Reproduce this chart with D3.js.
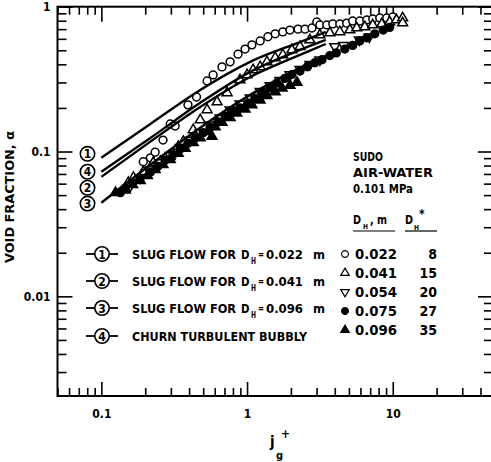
<!DOCTYPE html>
<html>
<head>
<meta charset="utf-8">
<script src="https://cdn.jsdelivr.net/npm/d3@7"></script>
<style>
  body { margin: 0; background: #fff; }
  text { font-family: "DejaVu Sans Condensed", "Liberation Sans Narrow", "DejaVu Sans", sans-serif; fill: #000; font-weight: bold; }
</style>
</head>
<body>
<script>
// ---- data: [jg+, void fraction] ----
var openCircles = [[0.194,0.085],[0.217,0.0905],[0.234,0.099],[0.265,0.12],[0.297,0.155],[0.321,0.15],
  [0.393,0.21],[0.45,0.238],[0.532,0.307],[0.585,0.338],[0.673,0.384],[0.765,0.416],[0.867,0.47],
  [0.969,0.51],[1.08,0.545],[1.23,0.58],[1.39,0.62],[1.56,0.65],[1.76,0.67],[1.97,0.69],[2.24,0.70],
  [2.5,0.70],[2.79,0.713],[3.01,0.784],[3.16,0.748],[3.53,0.748],[3.88,0.76],[4.33,0.76],[4.83,0.77],
  [5.31,0.797],[5.94,0.797],[6.64,0.81],[7.29,0.823],[8.15,0.836],[9.1,0.836],[10.0,0.85]];
var openUp = [[0.153,0.061],[0.166,0.066],[0.194,0.0725],[0.227,0.0836],[0.254,0.085],[0.297,0.092],
  [0.337,0.108],[0.365,0.117],[0.427,0.141],[0.477,0.165],[0.532,0.194],[0.623,0.22],[0.73,0.254],
  [0.895,0.312],[1.0,0.338],[1.1,0.366],[1.23,0.384],[1.37,0.416],[1.56,0.443],[1.76,0.465],[2.03,0.503],
  [2.31,0.53],[2.7,0.589],[3.16,0.638],[3.7,0.659],[4.33,0.67],[5.08,0.691],[5.66,0.713],[6.43,0.725],
  [7.29,0.748],[8.4,0.76],[9.53,0.784],[10.6,0.81],[11.7,0.836],[11.7,0.772]];
var openDown = [[0.158,0.058],[0.185,0.066],[0.217,0.075],[0.254,0.084],[0.297,0.094],[0.348,0.107],
  [0.407,0.12],[0.477,0.135],[0.558,0.153],[0.653,0.171],[0.765,0.194],[0.895,0.213],[1.05,0.235],
  [1.23,0.26],[1.44,0.285],[1.68,0.31],[1.97,0.34],[2.31,0.37],[2.7,0.4],[3.16,0.43],[4.0,0.53],
  [4.6,0.54],[5.9,0.59],[6.9,0.62]];
var filledCircles = [[0.135,0.052],[0.146,0.056],[0.164,0.061],[0.184,0.065],[0.217,0.072],[0.244,0.079],
  [0.274,0.087],[0.31,0.095],[0.348,0.104],[0.393,0.114],[0.44,0.124],[0.5,0.135],[0.558,0.147],
  [0.631,0.16],[0.707,0.175],[0.79,0.189],[0.895,0.2],[1.02,0.216],[1.13,0.234],[1.27,0.255],[1.44,0.275],
  [1.6,0.297],[1.82,0.32],[2.03,0.34],[2.31,0.36],[2.59,0.385],[2.92,0.41],[3.27,0.43],[3.7,0.46],
  [4.1,0.48],[4.69,0.51],[5.31,0.54],[5.94,0.58],[6.64,0.61],[7.53,0.65],[8.6,0.69],[9.53,0.72]];
var filledUp = [[0.125,0.052],[0.146,0.054],[0.164,0.059],[0.185,0.063],[0.207,0.068],[0.234,0.075],
  [0.265,0.081],[0.297,0.088],[0.337,0.097],[0.376,0.105],[0.427,0.115],[0.477,0.124],[0.575,0.127],
  [0.54,0.137],[0.604,0.148],[0.673,0.159],[0.765,0.171],[0.85,0.184],[0.969,0.196],[1.08,0.21],
  [1.23,0.226],[1.37,0.243],[1.56,0.258],[1.74,0.274],[1.97,0.286],[2.2,0.3]];

// curves (read at a few points and joined smoothly)
var curveX = [0.1, 0.217, 0.477, 1.05, 2.31, 3.47];
var curve1 = [0.0905, 0.155, 0.266, 0.416, 0.57, 0.67];
var curve4 = [0.0725, 0.124, 0.217, 0.355, 0.503, 0.589];
var curve2 = [0.0669, 0.117, 0.203, 0.327, 0.465, 0.553];
var curve3 = [0.0443, 0.081, 0.146, 0.246, 0.378, 0.458];
var curveTags = ["1", "4", "2", "3"];
var curveTagAlpha = [0.0964, 0.0725, 0.0562, 0.0437];

var xMajor = [0.1, 1, 10];
var xMajorLabels = ["0.1", "1", "10"];
var yMajor = [1, 0.1, 0.01];
var yMajorLabels = ["1", "0.1", "0.01"];

var slugDiam = ["0.022", "0.041", "0.096"];
var legendDiam = ["0.022", "0.041", "0.054", "0.075", "0.096"];
var legendDstar = ["8", "15", "20", "27", "35"];

var width = 491, height = 462;
var svg = d3.select("body").append("svg").attr("width", width).attr("height", height);

var x = d3.scaleLog().domain([0.05, 48]).range([57.5, 492]);
var y = d3.scaleLog().domain([0.00205, 1]).range([396, 6.7]);

var isMajor = function (d) {
  var l = Math.log10(d);
  return Math.abs(l - Math.round(l)) < 1e-6;
};
var xMinor = x.ticks().filter(function (d) { return !isMajor(d); });
var yMinor = y.ticks().filter(function (d) { return !isMajor(d); });

function styleAxis(g) {
  g.select(".domain").remove();
  g.selectAll("line").attr("stroke", "#000").attr("stroke-width", 1.6);
  g.selectAll("text").attr("font-size", 12).attr("fill", "#000")
    .style("font-family", '"DejaVu Sans Condensed", "DejaVu Sans", sans-serif')
    .style("font-weight", "bold");
}

// bottom
svg.append("g").attr("transform", "translate(0,396)")
  .call(d3.axisBottom(x).tickValues(xMinor).tickSize(-8).tickFormat("")).call(styleAxis);
svg.append("g").attr("transform", "translate(0,396)")
  .call(d3.axisBottom(x).tickValues(xMajor).tickSize(-14).tickPadding(13)
    .tickFormat(function (d, i) { return xMajorLabels[i]; })).call(styleAxis);
// top
svg.append("g").attr("transform", "translate(0,6.7)")
  .call(d3.axisTop(x).tickValues(xMinor).tickSize(-8).tickFormat("")).call(styleAxis);
svg.append("g").attr("transform", "translate(0,6.7)")
  .call(d3.axisTop(x).tickValues(xMajor).tickSize(-15).tickFormat("")).call(styleAxis);
// left
svg.append("g").attr("transform", "translate(57.5,0)")
  .call(d3.axisLeft(y).tickValues(yMinor).tickSize(-9).tickFormat("")).call(styleAxis);
svg.append("g").attr("transform", "translate(57.5,0)")
  .call(d3.axisLeft(y).tickValues(yMajor).tickSize(-15).tickPadding(7)
    .tickFormat(function (d, i) { return yMajorLabels[i]; })).call(styleAxis);
// right
svg.append("g").attr("transform", "translate(492,0)")
  .call(d3.axisRight(y).tickValues(yMinor).tickSize(-8).tickFormat("")).call(styleAxis);
svg.append("g").attr("transform", "translate(492,0)")
  .call(d3.axisRight(y).tickValues(yMajor).tickSize(-14).tickFormat("")).call(styleAxis);

// frame
svg.append("rect")
  .attr("x", x.range()[0]).attr("y", y.range()[1])
  .attr("width", x.range()[1] - x.range()[0]).attr("height", y.range()[0] - y.range()[1])
  .attr("fill", "none").attr("stroke", "#000").attr("stroke-width", 2);

// data markers
var series = [
  { data: openCircles, type: d3.symbolCircle, size: 48, fill: "#fff", rot: 0 },
  { data: openUp, type: d3.symbolTriangle, size: 42, fill: "#fff", rot: 0 },
  { data: openDown, type: d3.symbolTriangle, size: 42, fill: "#fff", rot: 180 },
  { data: filledCircles, type: d3.symbolCircle, size: 48, fill: "#000", rot: 0 },
  { data: filledUp, type: d3.symbolTriangle, size: 42, fill: "#000", rot: 0 }
];
series.forEach(function (s) {
  svg.append("g").selectAll("path").data(s.data).enter().append("path")
    .attr("d", d3.symbol().type(s.type).size(s.size))
    .attr("transform", function (d) {
      return "translate(" + x(d[0]) + "," + y(d[1]) + ") rotate(" + s.rot + ")";
    })
    .attr("fill", s.fill).attr("stroke", "#000").attr("stroke-width", 1.5);
});

// curves
var line = d3.line()
  .x(function (d) { return x(d[0]); })
  .y(function (d) { return y(d[1]); })
  .curve(d3.curveMonotoneX);
[curve1, curve4, curve2, curve3].forEach(function (c) {
  svg.append("path")
    .datum(curveX.map(function (v, i) { return [v, c[i]]; }))
    .attr("d", line).attr("fill", "none").attr("stroke", "#000").attr("stroke-width", 2.4);
});

// circled tags at left ends of curves
var tagG = svg.append("g");
curveTags.forEach(function (t, i) {
  var cy = y(curveTagAlpha[i]);
  tagG.append("circle").attr("cx", 87.5).attr("cy", cy).attr("r", 7.2)
    .attr("fill", "#fff").attr("stroke", "#000").attr("stroke-width", 1.6);
  tagG.append("text").attr("x", 87.5).attr("y", cy + 4.5).attr("text-anchor", "middle")
    .attr("font-size", 12).text(t);
});

// helper: one text element made of positioned pieces
function pieces(g, baseY, parts) {
  var t = g.append("text").attr("y", baseY);
  parts.forEach(function (p) {
    var s = t.append("tspan").attr("x", p.x).attr("y", baseY + (p.dy || 0))
      .attr("font-size", p.size).text(p.text);
    if (p.len) s.attr("textLength", p.len).attr("lengthAdjust", "spacingAndGlyphs");
  });
  return t;
}

// left legend
var rowsY = [254, 281, 308, 336];
var leg = svg.append("g");
["1", "2", "3", "4"].forEach(function (t, i) {
  var cy = rowsY[i];
  leg.append("line").attr("x1", 86).attr("x2", 118).attr("y1", cy).attr("y2", cy)
    .attr("stroke", "#000").attr("stroke-width", 1.8);
  leg.append("circle").attr("cx", 102).attr("cy", cy).attr("r", 7.2)
    .attr("fill", "#fff").attr("stroke", "#000").attr("stroke-width", 1.6);
  leg.append("text").attr("x", 102).attr("y", cy + 4.5).attr("text-anchor", "middle")
    .attr("font-size", 12).text(t);
  if (i < 3) {
    pieces(leg, cy + 5, [
      { x: 132, size: 13, len: 104, text: "SLUG FLOW FOR" },
      { x: 241, size: 13, len: 8.5, text: "D" },
      { x: 251, dy: 4.5, size: 8, len: 5, text: "H" },
      { x: 258, dy: -1, size: 10, len: 6, text: "=" },
      { x: 266, size: 13, len: 37, text: slugDiam[i] },
      { x: 313, size: 13, len: 12, text: "m" }
    ]);
  } else {
    leg.append("text").attr("x", 132).attr("y", cy + 5).attr("font-size", 13)
      .attr("textLength", 175).attr("lengthAdjust", "spacingAndGlyphs").text("CHURN TURBULENT BUBBLY");
  }
});

// right legend
var rl = svg.append("g");
rl.append("text").attr("x", 353).attr("y", 160.5).attr("font-size", 13)
  .attr("textLength", 30).attr("lengthAdjust", "spacingAndGlyphs").text("SUDO");
rl.append("text").attr("x", 353).attr("y", 177).attr("font-size", 13)
  .attr("textLength", 80).attr("lengthAdjust", "spacingAndGlyphs").text("AIR-WATER");
rl.append("text").attr("x", 353).attr("y", 193).attr("font-size", 13)
  .attr("textLength", 60).attr("lengthAdjust", "spacingAndGlyphs").text("0.101 MPa");
pieces(rl, 224, [
  { x: 353, size: 13, len: 8, text: "D" },
  { x: 363, dy: 5, size: 7, len: 5, text: "H" },
  { x: 370, size: 13, len: 17, text: ", m" }
]);
rl.append("line").attr("x1", 353).attr("x2", 395).attr("y1", 231).attr("y2", 231)
  .attr("stroke", "#000").attr("stroke-width", 1.2);
pieces(rl, 224, [
  { x: 405, size: 13, len: 8, text: "D" },
  { x: 414, dy: 6, size: 7, len: 5, text: "H" },
  { x: 419, dy: -6, size: 12, text: "*" }
]);
rl.append("line").attr("x1", 405).attr("x2", 437).attr("y1", 231).attr("y2", 231)
  .attr("stroke", "#000").attr("stroke-width", 1.2);

var rRows = [254, 273, 292, 311, 330];
series.forEach(function (s, i) {
  var cy = rRows[i];
  rl.append("path").attr("d", d3.symbol().type(s.type).size(s.size * 0.75))
    .attr("transform", "translate(345," + cy + ") rotate(" + s.rot + ")")
    .attr("fill", s.fill).attr("stroke", "#000").attr("stroke-width", 1.2);
  rl.append("text").attr("x", 355).attr("y", cy + 5).attr("font-size", 14)
    .attr("textLength", 42).attr("lengthAdjust", "spacingAndGlyphs").text(legendDiam[i]);
  rl.append("text").attr("x", 437).attr("y", cy + 5).attr("font-size", 14)
    .attr("text-anchor", "end").text(legendDstar[i]);
});

// axis titles
svg.append("text").attr("transform", "translate(14,197) rotate(-90)")
  .attr("text-anchor", "middle").attr("font-size", 13)
  .attr("textLength", 132).attr("lengthAdjust", "spacingAndGlyphs").text("VOID FRACTION, α");
pieces(svg, 447, [
  { x: 270, size: 15, text: "j" },
  { x: 276, dy: 12, size: 11, text: "g" },
  { x: 281, dy: -9, size: 12, text: "+" }
]);
</script>
</body>
</html>
